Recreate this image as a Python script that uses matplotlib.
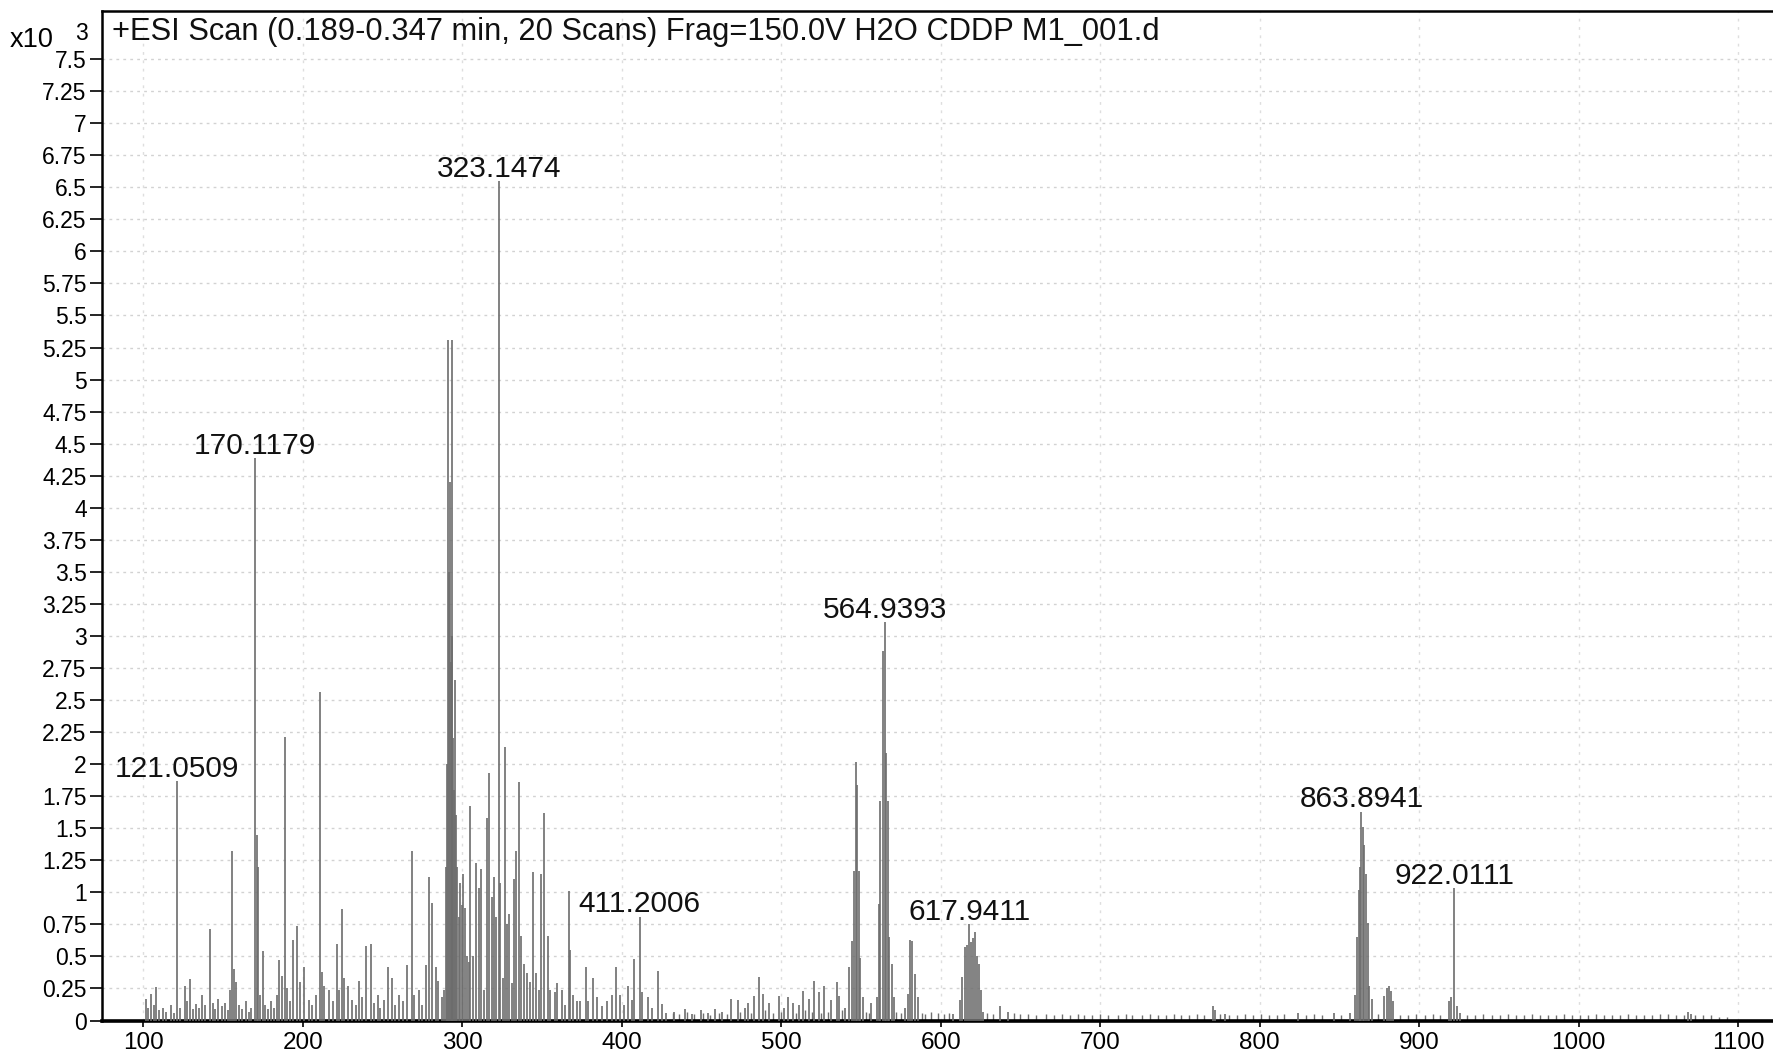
import numpy as np
import matplotlib
matplotlib.use("Agg")
import matplotlib.pyplot as plt

plt.rcParams['font.family'] = ['Liberation Sans', 'DejaVu Sans']

# spectrum peaks: (m/z, counts x10^3), grouped by region
peaks_100_200 = [
    (101.5, 0.17), (103, 0.10), (105, 0.21), (106.5, 0.12), (108, 0.26), (110, 0.08), (112, 0.10),
    (114, 0.07), (117.5, 0.12), (119, 0.06), (121.05, 1.87), (123, 0.10), (125.8, 0.27),
    (127.5, 0.15), (129, 0.32), (131, 0.09), (133, 0.13), (135, 0.10), (136.6, 0.20),
    (138.5, 0.12), (141.8, 0.71), (143.5, 0.14), (145, 0.09), (147, 0.17), (149, 0.11),
    (151, 0.14), (153, 0.08), (154, 0.24), (155.3, 1.32), (156.5, 0.40), (158, 0.30),
    (160, 0.12), (162, 0.09), (164, 0.15), (166, 0.07), (167.5, 0.10), (170.12, 4.39),
    (170.9, 1.45), (171.7, 1.20), (173, 0.20), (174.7, 0.54), (176.5, 0.12), (178, 0.09),
    (180, 0.15), (182, 0.10), (183.5, 0.20), (185, 0.47), (186.6, 0.35), (188.7, 2.21),
    (190, 0.25), (192, 0.15), (194, 0.63), (196.6, 0.74), (198, 0.30),
]
peaks_200_300 = [
    (200.9, 0.42), (204, 0.16), (206, 0.12), (208, 0.20), (210.8, 2.56), (212, 0.38),
    (213.4, 0.27), (216.6, 0.24), (219, 0.15), (221.1, 0.60), (222.8, 0.24), (224.3, 0.87),
    (225.5, 0.33), (228, 0.27), (231.1, 0.16), (233, 0.12), (235.3, 0.31), (237, 0.18),
    (239.5, 0.58), (242.6, 0.60), (244.5, 0.14), (246.8, 0.20), (248.5, 0.10), (250.9, 0.16),
    (253.6, 0.42), (256.1, 0.33), (258, 0.12), (260.3, 0.20), (263, 0.15), (265.5, 0.43),
    (268.2, 1.32), (269.7, 0.20), (272.8, 0.24), (275, 0.12), (277.5, 0.43), (279.2, 1.12),
    (280.7, 0.92), (283.2, 0.42), (284.9, 0.31), (287, 0.18), (288.4, 0.24), (289.5, 1.20),
    (290.2, 2.00), (291.0, 5.31), (291.5, 3.50), (292.2, 4.20), (292.6, 2.80), (293.2, 5.31),
    (293.8, 3.00), (294.4, 2.20), (294.9, 1.80), (295.5, 2.66), (296.2, 1.60), (296.8, 1.20),
    (297.8, 0.81), (298.8, 1.07), (299.5, 0.90),
]
peaks_300_400 = [
    (300.4, 1.14), (301.6, 0.88), (303, 0.50), (304.1, 0.46), (305.1, 1.67), (306.6, 0.50),
    (308.7, 1.23), (310.4, 1.03), (311.8, 1.18), (313.5, 0.24), (315.6, 1.58), (316.8, 1.93),
    (318.7, 0.96), (319.7, 1.12), (321.2, 0.81), (323.15, 6.55), (323.9, 1.07), (325.4, 0.33),
    (326.8, 2.13), (328.1, 0.75), (329.5, 0.83), (331.2, 0.29), (332.6, 1.10), (333.9, 1.32),
    (335.8, 1.86), (337, 0.66), (338.5, 0.44), (340.6, 0.37), (342.5, 0.30), (344.6, 1.16),
    (346.2, 0.37), (347.9, 0.24), (349.5, 1.14), (351.5, 1.62), (353.5, 0.66), (355.1, 0.24),
    (357.9, 0.22), (359.3, 0.29), (362.4, 0.24), (364.5, 0.12), (366.8, 1.01), (367.8, 0.55),
    (369.7, 0.20), (371.8, 0.15), (373.9, 0.15), (377.4, 0.42), (379.1, 0.15), (382.2, 0.33),
    (384.3, 0.18), (387.4, 0.11), (390.6, 0.15), (393.7, 0.20), (396.2, 0.42), (398.9, 0.20),
]
peaks_400_600 = [
    (401.5, 0.12), (404.1, 0.27), (406.1, 0.16), (407.5, 0.48), (411.2, 0.81), (412.5, 0.22),
    (416.6, 0.18), (419, 0.10), (422.5, 0.39), (425, 0.13), (428, 0.06), (433, 0.07),
    (439.5, 0.09), (444, 0.05), (449.9, 0.08), (454, 0.06), (458.2, 0.09), (463, 0.07),
    (468.6, 0.17), (472.8, 0.16), (477, 0.10), (479, 0.14), (483.2, 0.19), (486.2, 0.34),
    (488.4, 0.21), (492.6, 0.14), (498.8, 0.19), (502, 0.10), (504, 0.18), (507.2, 0.14),
    (511, 0.12), (513.4, 0.23), (517.6, 0.17), (520.7, 0.31), (523.8, 0.22), (527, 0.27),
    (531.1, 0.16), (534.9, 0.30), (536.3, 0.19), (540, 0.10), (542.6, 0.42), (544.5, 0.62),
    (545.8, 1.17), (546.8, 2.02), (547.6, 1.84), (548.5, 1.17), (549.6, 0.49), (551.2, 0.18),
    (556.5, 0.14), (559.8, 0.18), (561.2, 0.91), (562.2, 1.71), (563.6, 2.88), (564.94, 3.11),
    (565.6, 2.09), (566.8, 1.71), (567.8, 0.65), (569.2, 0.44), (570.6, 0.18), (577.5, 0.10),
    (579.6, 0.21), (581.0, 0.63), (582.2, 0.62), (583.8, 0.36), (585.5, 0.18),
]
peaks_600_1100 = [
    (608, 0.05), (611.8, 0.16), (613.6, 0.34), (615.2, 0.57), (616.5, 0.59), (617.94, 0.75),
    (618.9, 0.61), (620.0, 0.64), (621.3, 0.69), (622.6, 0.50), (623.8, 0.44), (625.2, 0.24),
    (626.6, 0.07), (637, 0.11), (642, 0.07), (770.5, 0.11), (772, 0.08), (778, 0.05),
    (824, 0.06), (846.8, 0.06), (857, 0.06), (859.8, 0.20), (861.2, 0.65), (862.3, 1.02),
    (863.2, 1.20), (863.89, 1.63), (864.6, 1.51), (865.3, 1.37), (866.6, 1.14), (867.8, 0.76),
    (868.9, 0.27), (870.7, 0.17), (878.2, 0.19), (879.8, 0.25), (881.2, 0.27), (882.6, 0.23),
    (883.9, 0.15), (918.6, 0.15), (920, 0.18), (922.01, 1.03), (923.6, 0.11), (925.4, 0.06),
    (1068.9, 0.07), (1070.5, 0.05),
]

# low-level noise ("grass") along the baseline, 430-1095
noise = [
    (432, 0.06), (436, 0.05), (441, 0.07), (445, 0.05), (451, 0.06), (455, 0.04), (461, 0.06),
    (466, 0.05), (474, 0.07), (481, 0.06), (490, 0.08), (495, 0.06), (500, 0.07), (509, 0.06),
    (515, 0.08), (519, 0.07), (525, 0.06), (529, 0.07), (538, 0.08), (553, 0.07), (555, 0.06),
    (572, 0.07), (575, 0.06), (588, 0.06), (590, 0.05), (594, 0.07), (598, 0.06), (602, 0.05),
    (605, 0.06), (629, 0.06), (633, 0.05), (646, 0.06), (650, 0.05), (655, 0.05), (660, 0.04),
    (666, 0.05), (671, 0.04), (676, 0.05), (681, 0.04), (686, 0.05), (690, 0.04), (695, 0.04),
    (700, 0.05), (705, 0.04), (711, 0.04), (716, 0.05), (720, 0.04), (726, 0.04), (731, 0.05),
    (736, 0.04), (741, 0.04), (746, 0.05), (751, 0.04), (756, 0.04), (761, 0.05), (765, 0.04),
    (775, 0.05), (781, 0.04), (786, 0.04), (791, 0.05), (796, 0.04), (801, 0.05), (806, 0.04),
    (811, 0.04), (815, 0.05), (829, 0.04), (834, 0.05), (839, 0.04), (851, 0.04), (874, 0.05),
    (888, 0.04), (893, 0.04), (898, 0.05), (904, 0.04), (909, 0.05), (913, 0.04), (930, 0.04),
    (935, 0.04), (940, 0.05), (946, 0.04), (951, 0.04), (956, 0.05), (961, 0.04), (966, 0.04),
    (971, 0.05), (976, 0.04), (981, 0.04), (986, 0.04), (991, 0.05), (996, 0.04), (1001, 0.04),
    (1006, 0.04), (1011, 0.05), (1016, 0.04), (1021, 0.04), (1026, 0.04), (1031, 0.05),
    (1036, 0.04), (1041, 0.04), (1046, 0.04), (1051, 0.05), (1056, 0.05), (1061, 0.04),
    (1066, 0.04), (1073, 0.04), (1078, 0.04), (1083, 0.04), (1088, 0.03), (1093, 0.03),
]

# annotated peaks
label_mz = [121.0509, 170.1179, 323.1474, 411.2006, 564.9393, 617.9411, 863.8941, 922.0111]
label_int = [1.87, 4.39, 6.55, 0.81, 3.11, 0.75, 1.63, 1.03]

y_ticks = np.arange(0, 7.51, 0.25)
x_ticks = [100, 200, 300, 400, 500, 600, 700, 800, 900, 1000, 1100]
title = "+ESI Scan (0.189-0.347 min, 20 Scans) Frag=150.0V H2O CDDP M1_001.d"

peaks = peaks_100_200 + peaks_200_300 + peaks_300_400 + peaks_400_600 + peaks_600_1100
peak_mz = [p[0] for p in peaks]
peak_int = [p[1] for p in peaks]
noise_mz = [p[0] for p in noise]
noise_int = [p[1] for p in noise]

W, H = 1774, 1054
fig = plt.figure(figsize=(W / 100, H / 100), dpi=100)
ax = fig.add_axes([102 / W, 33.5 / H, 1 - 102 / W, 1009.5 / H])

ax.set_xlim(74, 1122.6)
ax.set_ylim(0, 7.875)

# faint dotted grid like the scanned printout
for y in y_ticks[1:]:
    ax.axhline(y, color='#d2d2d2', lw=1.0, ls=(0, (2, 3)), zorder=0)
for x in x_ticks:
    ax.axvline(x, color='#dedede', lw=1.0, ls=(0, (2, 4)), zorder=0)

ax.vlines(noise_mz, 0, noise_int, colors='#707070', lw=1.0, zorder=2)
ax.vlines(peak_mz, 0, peak_int, colors='#6c6c6c', lw=1.2, zorder=3)

for mz, h in zip(label_mz, label_int):
    ax.annotate(f'{mz:.4f}', (mz, h), xytext=(0, 3), textcoords='offset points',
                ha='center', va='baseline', fontsize=21.5, color='#111111')

ax.text(0.006, 0.994, title, transform=ax.transAxes, ha='left', va='top',
        fontsize=22.2, color='#111111')

ax.set_yticks(y_ticks)
ax.set_yticklabels([f'{v:g}' for v in y_ticks])
ax.set_xticks(x_ticks)
ax.tick_params(axis='y', direction='out', length=9, width=1.2, pad=2, labelsize=16.5)
ax.tick_params(axis='x', direction='out', length=4, width=1.2, pad=4, labelsize=17.5)

for side in ['left', 'top']:
    ax.spines[side].set_linewidth(1.8)
ax.spines['bottom'].set_linewidth(2.6)
ax.spines['right'].set_visible(False)

fig.text(10 / W, 1 - 40 / H, 'x10', fontsize=19.5, ha='left', va='center')
fig.text(75 / W, 1 - 34 / H, '3', fontsize=16.5, ha='left', va='center')

fig.savefig('out.png', dpi=100, facecolor='white')
